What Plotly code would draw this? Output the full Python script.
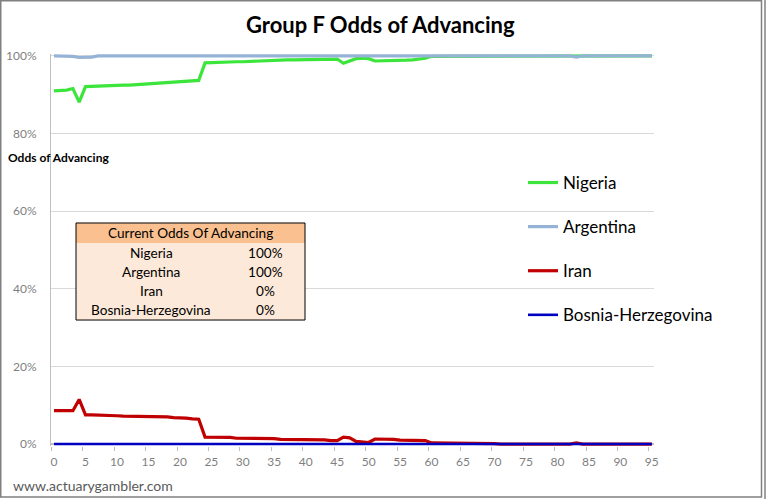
import plotly.graph_objects as go

# match day index (x categories) and odds of advancing (%) per team
days = list(range(96))

nigeria = [
    91.0, 91.1, 91.2, 91.6, 88.1, 92.1, 92.2, 92.2, 92.2, 92.3,
    92.4, 92.5, 92.5, 92.6, 92.7, 92.8, 92.9, 93.0, 93.1, 93.2,
    93.3, 93.4, 93.5, 93.7, 98.2, 98.3, 98.3, 98.4, 98.4, 98.5,
    98.5, 98.6, 98.7, 98.8, 98.8, 98.9, 99.0, 99.0, 99.0, 99.0,
    99.1, 99.1, 99.1, 99.1, 99.2, 99.2, 98.1, 98.6, 99.3, 99.4,
    99.3, 98.7, 98.7, 98.8, 98.9, 98.9, 98.9, 99.0, 99.1, 99.4,
    99.9, 99.9, 99.9, 99.9, 99.9, 99.8, 99.8, 99.8, 99.8, 99.8,
    99.8, 99.8, 99.8, 100, 100, 100, 100, 100, 100, 100,
    100, 100, 100, 100, 100, 100, 100, 100, 100, 100,
    100, 100, 100, 100, 100, 100,
]

argentina = [
    100, 100, 100, 99.9, 99.6, 99.6, 99.7, 100, 100, 100,
    100, 100, 100, 100, 100, 100, 100, 100, 100, 100,
    100, 100, 100, 100, 100, 100, 100, 100, 100, 100,
    100, 100, 100, 100, 100, 100, 100, 100, 100, 100,
    100, 100, 100, 100, 100, 100, 100, 100, 100, 100,
    100, 100, 100, 100, 100, 100, 100, 100, 100, 100,
    100, 100, 100, 100, 100, 100, 100, 100, 100, 100,
    100, 100, 100, 100, 100, 100, 100, 100, 100, 100,
    100, 100, 100, 99.7, 100, 100, 100, 100, 100, 100,
    100, 100, 100, 100, 100, 100,
]

iran = [
    8.6, 8.6, 8.6, 8.6, 11.5, 7.5, 7.5, 7.5, 7.5, 7.4,
    7.3, 7.2, 7.2, 7.2, 7.2, 7.0, 7.0, 7.0, 7.0, 6.8,
    6.8, 6.7, 6.5, 6.4, 1.8, 1.8, 1.8, 1.8, 1.7, 1.5,
    1.5, 1.5, 1.5, 1.5, 1.5, 1.4, 1.2, 1.2, 1.1, 1.1,
    1.1, 1.1, 1.1, 1.1, 0.9, 0.9, 1.8, 1.6, 0.7, 0.6,
    0.4, 1.3, 1.3, 1.3, 1.2, 1.0, 1.0, 1.0, 1.0, 0.9,
    0.3, 0.3, 0.3, 0.25, 0.25, 0.2, 0.2, 0.2, 0.2, 0.15,
    0.1, 0, 0, 0, 0, 0, 0, 0, 0, 0,
    0, 0, 0, 0.3, 0, 0, 0, 0, 0, 0,
    0, 0, 0, 0, 0, 0,
]

bosnia = [0] * 96

teams = ["Nigeria", "Argentina", "Iran", "Bosnia-Herzegovina"]
team_colors = ["#3BE53B", "#95B3D7", "#C00000", "#0000C0"]
current_odds = ["100%", "100%", "0%", "0%"]
table_title = "Current Odds Of Advancing"

x_ticks = list(range(0, 96, 5))
y_ticks = [0, 20, 40, 60, 80, 100]
y_tick_text = ["0%", "20%", "40%", "60%", "80%", "100%"]

# plot area in pixels (from the 766x499 reference)
W_FIG, H_FIG = 766, 499
L, R = 51, 654
T, B = 54.06, 445.94
PW, PH = R - L, B - T


def px_x(px):
    return (px - L) / PW


def px_y(py):
    return (B - py) / PH


FONT = "Lato"

fig = go.Figure()

series = [nigeria, argentina, iran, bosnia]
for name, vals, col in zip(teams, series, team_colors):
    fig.add_trace(
        go.Scatter(
            x=days,
            y=vals,
            mode="lines",
            name=name,
            legendgroup=name,
            line=dict(color=col, width=3.2 if name != "Bosnia-Herzegovina" else 2.6),
            hoverinfo="skip",
        )
    )

# table box geometry (pixels)
TB_L, TB_R, TB_T, TB_B = 76, 305, 223, 320
HEAD_B = 243
ROW_H = (TB_B - HEAD_B) / len(teams)
COL1_C, COL2_C = 151, 265

shapes = [
    dict(type="rect", xref="paper", yref="paper", layer="above",
         x0=px_x(TB_L), x1=px_x(TB_R), y0=px_y(TB_B), y1=px_y(HEAD_B),
         fillcolor="#FDE9D9", line=dict(width=0)),
    dict(type="rect", xref="paper", yref="paper", layer="above",
         x0=px_x(TB_L), x1=px_x(TB_R), y0=px_y(HEAD_B), y1=px_y(TB_T),
         fillcolor="#FAC090", line=dict(width=0)),
    dict(type="rect", xref="paper", yref="paper", layer="above",
         x0=px_x(TB_L), x1=px_x(TB_R), y0=px_y(TB_B), y1=px_y(TB_T),
         line=dict(color="black", width=1)),
    # chart frame with shadow line
    dict(type="rect", xref="paper", yref="paper",
         x0=px_x(0.75), x1=px_x(761.5), y0=px_y(497), y1=px_y(0.75),
         line=dict(color="#808080", width=1.5)),
    dict(type="line", xref="paper", yref="paper",
         x0=px_x(765), x1=px_x(765), y0=px_y(499), y1=px_y(0),
         line=dict(color="#808080", width=1.5)),
]


def label(text, px, py, size, color="black", anchor="center"):
    return dict(text=text, x=px_x(px), y=px_y(py), xref="paper", yref="paper",
                xanchor=anchor, yanchor="middle", showarrow=False,
                font=dict(family=FONT, size=size, color=color))


annotations = [
    label("<b>Group F Odds of Advancing</b>", 380, 25, 22),
    label("<b>Odds of Advancing</b>", 6, 158, 12, anchor="left"),
    label("www.actuarygambler.com", 11, 485, 14, color="#595959", anchor="left"),
    label(table_title, (TB_L + TB_R) / 2, (TB_T + HEAD_B) / 2, 13.6),
]
for i, (team, odds) in enumerate(zip(teams, current_odds)):
    yc = HEAD_B + ROW_H * (i + 0.5)
    annotations.append(label(team, COL1_C, yc, 13.6))
    annotations.append(label(odds, COL2_C, yc, 13.6))

fig.update_layout(
    width=W_FIG,
    height=H_FIG,
    margin=dict(l=L, r=W_FIG - R, t=T, b=H_FIG - B, pad=0, autoexpand=False),
    paper_bgcolor="white",
    plot_bgcolor="white",
    font=dict(family=FONT, color="#7F7F7F", size=12),
    showlegend=True,
    legend=dict(
        x=px_x(523), y=px_y(165), xanchor="left", yanchor="top",
        font=dict(family=FONT, size=17, color="black"),
        tracegroupgap=19,
        bgcolor="rgba(0,0,0,0)",
    ),
    shapes=shapes,
    annotations=annotations,
    hovermode=False,
)

fig.update_xaxes(
    range=[-0.48, 95.35],
    tickvals=x_ticks,
    ticks="",
    showgrid=False,
    showline=False,
    zeroline=False,
    tickfont=dict(family=FONT, size=12, color="#7F7F7F"),
    ticklabelstandoff=7,
    minor=dict(tickvals=[v - 0.45 for v in x_ticks], ticks="outside",
               ticklen=4, tickcolor="#BFBFBF", showgrid=False),
)

fig.update_yaxes(
    range=[-0.5, 100.5],
    tickvals=y_ticks,
    ticktext=y_tick_text,
    ticks="",
    showgrid=True,
    gridcolor="#D9D9D9",
    showline=True,
    linecolor="#BFBFBF",
    zeroline=True,
    zerolinecolor="#BFBFBF",
    tickfont=dict(family=FONT, size=12, color="#7F7F7F"),
    ticklabelstandoff=11,
)

fig.write_html("out.html", config={"displayModeBar": False},
               post_script="document.body.style.margin='0px';")
